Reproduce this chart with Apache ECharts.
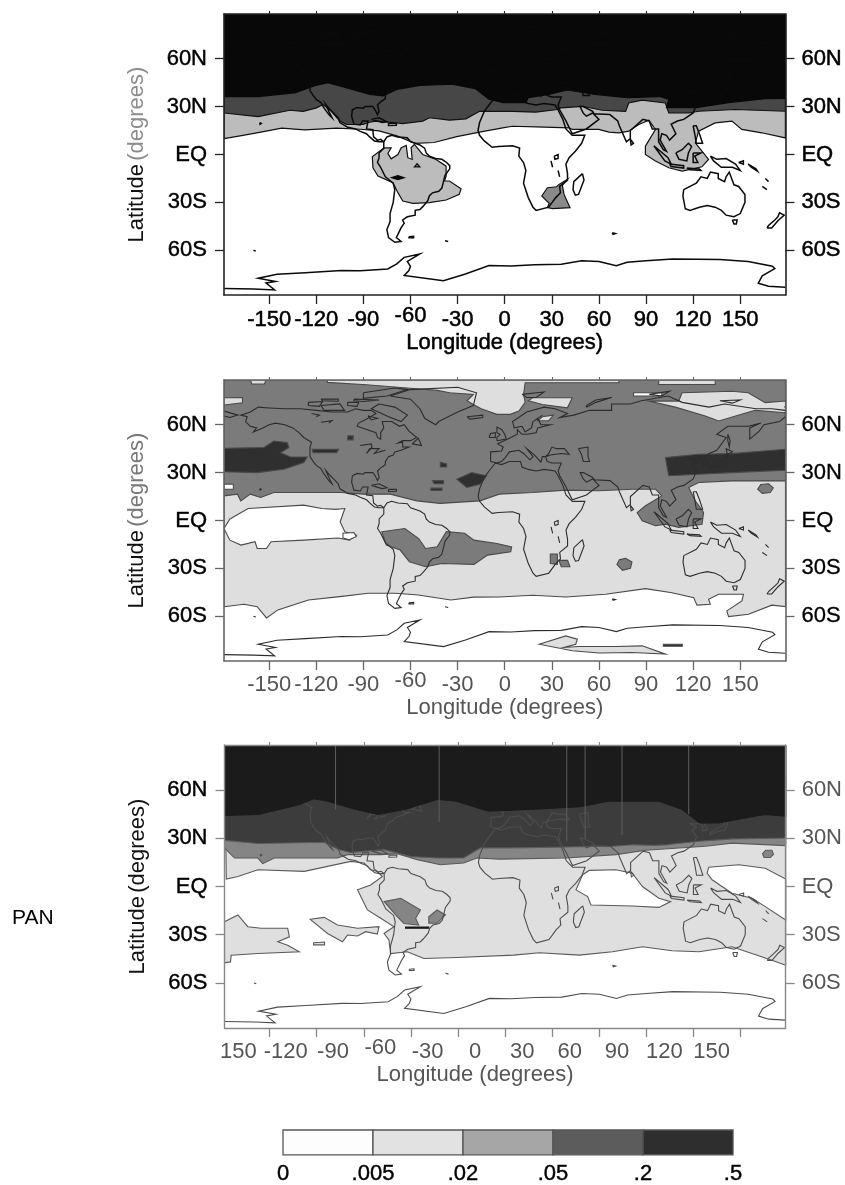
<!DOCTYPE html>
<html><head><meta charset="utf-8">
<style>html,body{margin:0;padding:0;background:#fff}#c{width:845px;height:1185px}</style>
<script src="https://cdn.jsdelivr.net/npm/echarts@6/dist/echarts.min.js"></script>
</head><body><div id="c"></div>
<script>
const LON = 178.75, LAT = 88;
const lonTicks = [-150,-120,-90,-60,-30,0,30,60,90,120,150];
const latTicks = [-60,-30,0,30,60];
const latNames = {'-60':'60S','-30':'30S','0':'EQ','30':'30N','60':'60N'};
const legendLabels = ['0','.005','.02','.05','.2','.5'];
const legendBands = [0,1,2,3,4];
const sideLabel = 'PAN';

// ---------- coastlines (lon, lat) ----------
const coastSouthAmerica = [[-77,8],[-75,11],[-72,12],[-68,11],[-62,10.5],[-60,8],[-54,6],[-51,4],[-50,1],[-48,-1],[-44,-2.5],[-40,-3],[-37,-5],[-35,-7],[-35,-9],[-38,-13],[-39,-17],[-40,-21],[-42,-23],[-46,-24],[-48,-26],[-49,-29],[-52,-32.5],[-54,-34.5],[-57,-35],[-57,-38],[-62,-39],[-65,-41],[-64,-43],[-66,-46],[-68,-50],[-69,-52],[-66,-54.5],[-70,-55],[-74,-52],[-75,-47],[-73,-42],[-73,-37],[-71,-30],[-70,-22],[-71,-18],[-76,-14],[-79,-8],[-81,-5],[-80,-2],[-80,1],[-77,4],[-77,8]];
const coastNorthAmerica = [[-77,8],[-80,8],[-83,8.5],[-86,11],[-88,13],[-92,14.5],[-95,16],[-100,17],[-105,20],[-106,23],[-109,26],[-112,29],[-114,31.5],[-112,27],[-110,23],[-112,25],[-115,29],[-117,32.5],[-120,34.5],[-122,37],[-124,40],[-124,46],[-123,49],[-128,52],[-131,55],[-135,58],[-140,60],[-146,61],[-150,60],[-154,58],[-160,55.5],[-158,58],[-162,59],[-165,62],[-164,65],[-168,66],[-162,68],[-157,71],[-150,70.5],[-140,70],[-130,70],[-120,69],[-110,68],[-100,68],[-95,70],[-90,69],[-85,69],[-82,67],[-87,64],[-93,61],[-94,59],[-88,57],[-82,55],[-81,52],[-79,51],[-79,55],[-77,58],[-78,62],[-72,62],[-67,59],[-64,60],[-61,56],[-56,52],[-60,50],[-65,50],[-68,48.5],[-65,49],[-65,46],[-61,46],[-66,44],[-70,43],[-71,41],[-74,40],[-76,37],[-76,35],[-79,33],[-81,31],[-80,27],[-81,25],[-82.5,28],[-84,30],[-89,30],[-90,29],[-94,29.5],[-97,28],[-97.5,24],[-96,19],[-92,18.5],[-90.5,21],[-87,21],[-88,16],[-84,15.5],[-83.5,11],[-81,9],[-79,9.5],[-77,8]];
const coastAfrica = [[-6,36],[-2,35],[3,37],[10,37],[11,33.5],[15,32],[20,31],[25,32],[32,31],[34,28],[37,22],[39,16],[43,12],[51,12],[49,7],[45,2],[41,-2],[39,-6],[40,-12],[40,-16],[35,-20],[35.5,-24],[32.5,-27],[28,-33],[20,-35],[18,-33],[15,-27],[12,-18],[13.5,-10],[12,-5],[9,-1],[9.5,4],[5,5.5],[-4,5],[-8,4.5],[-13,8.5],[-16,12],[-17,15],[-16,20],[-13,27],[-10,31],[-6,36]];
const coastEurasia = [[-9,37],[-9,43],[-2,43.5],[-1,46],[-4.5,48],[2,51],[8,54],[8,57],[11,54],[14,54],[20,55],[21,58],[29,60],[23,60],[21,64],[24,66],[18,62],[17,58],[13,55.5],[11,59],[6,58],[5,62],[14,68],[25,71],[32,70],[40,67],[35,64.5],[44,66],[54,69],[68,69],[68,73],[80,73],[87,75],[104,78],[113,74],[130,71],[140,73],[160,70],[170,70],[178.7,69],[178.7,65],[175,62],[165,60],[162,56],[156,51],[156,58],[163,61],[155,59],[142,59],[135,54],[141,52],[135,44],[130,42],[127,39],[129,35.5],[126,34.5],[126,37],[125,39],[121,39],[118,39],[122,37],[119,35],[122,31],[120,26],[114,22],[110,21],[106,19],[109,13],[105,9],[103,12],[100,13],[99,9],[103,2],[101,3],[98,8],[98,16],[94,16],[92,21],[88,22],[80,15],[80,10],[77.5,8],[73,18],[72,21],[67,25],[57,25.5],[56,27],[50,30],[48,30],[50,26],[52,24],[56,26],[60,22],[52,16],[43,13],[39,21],[35,28],[34,31],[36,36],[30,36],[27,37],[26,40],[29,41],[36,42],[41,41.5],[38,45],[33,45],[30,46],[28,42],[26,40],[24,40],[23,36.5],[19,41],[14,45],[18,40],[16,38],[12,42],[9,44],[3,43],[0,39],[-2,37],[-5,36],[-9,37]];
const coastChukotka = [[-178.7,68.5],[-170,66],[-175,64.5],[-178.7,65.5]];
const coastCaspian = [[47,45],[53,46],[53,40],[54,37],[50,37],[49,41],[47,45]];
const coastAustralia = [[114,-22],[113.5,-26],[115,-34],[118,-35],[124,-33],[129,-32],[134,-33],[138,-35],[141,-38],[146,-39],[150,-37],[153,-30],[153,-25],[149,-20],[146,-19],[143,-11],[141,-14],[140,-17],[136,-15],[136,-12],[131,-11],[129,-15],[125,-14],[122,-18],[114,-22]];
const coastTasmania = [[145,-41],[148,-41],[147.5,-43.5],[146,-43.5],[145,-41]];
const coastNewZealand = [[167,-46],[170,-46],[174,-41.5],[178,-38],[175,-36.5],[174,-39],[172,-41],[168,-44.5],[167,-46]];
const coastMadagascar = [[49.5,-12],[50.5,-16],[47,-25],[45,-25.5],[43.5,-22],[44,-17],[49.5,-12]];
const coastNewGuinea = [[131,-1],[135,-3],[141,-2.5],[147,-6],[150,-10],[145,-8],[138,-8],[133,-4],[131,-1]];
const coastSumatra = [[95,5.5],[104,-2],[106,-6],[102,-4],[95,5.5]];
const coastJava = [[105,-6],[114,-7],[114,-8.5],[106,-7.5],[105,-6]];
const coastBorneo = [[109,1],[113,3],[117,7],[119,5],[117,1],[116,-4],[111,-3],[109,1]];
const coastSulawesi = [[120,1],[125,1],[121,-1],[123,-5],[120,-5],[120,1]];
const coastPhilippines = [[120,18],[122,18],[124,13],[126,7],[122,7],[121,13],[120,18]];
const coastTimor = [[116,-8.5],[124,-9],[125,-10],[118,-9.5],[116,-8.5]];
const coastBismarck = [[149,-5],[152,-4],[152,-6],[149,-5]];
const coastSolomons = [[155,-6],[160,-9],[161,-10.5],[157,-8],[155,-6]];
const coastVanuatu = [[166,-15],[168,-17]];
const coastCaledonia = [[164,-20],[167,-22]];
const coastJapan = [[130,32],[135,34],[140,35],[142,40],[141,45],[145,43],[141,41],[139,38],[135,36],[130,33]];
const coastSriLanka = [[80,9.5],[82,7],[80.5,6],[80,9.5]];
const coastCuba = [[-85,22],[-80,23],[-75,20.5],[-78,20],[-85,22]];
const coastHispaniola = [[-74,19.5],[-69,19.5],[-69,18.3],[-74,18.2],[-74,19.5]];
const coastBritain = [[-5,50],[1,51],[0,54],[-2,57],[-5,58.5],[-5,55],[-3,54],[-5,52],[-5,50]];
const coastIreland = [[-10,52],[-6,52],[-6,55],[-9,54.5],[-10,52]];
const coastIceland = [[-24,65],[-14,66],[-14,64.5],[-22,63.5],[-24,65]];
const coastGreenland = [[-73,78],[-60,82],[-30,83.5],[-18,80],[-20,72],[-30,68],[-42,62],[-44,60],[-51,64],[-54,70],[-60,76],[-73,78]];
const coastBaffin = [[-80,73],[-70,71],[-62,66],[-66,62],[-74,65],[-85,70],[-80,73]];
const coastEllesmere = [[-90,80],[-70,83],[-62,82],[-75,78],[-90,76.5],[-90,80]];
const coastVictoria = [[-117,72],[-105,73],[-102,69],[-115,69],[-117,72]];
const coastBanks = [[-125,74],[-116,74.5],[-118,71.5],[-125,72],[-125,74]];
const coastMelville = [[-117,76],[-106,76],[-106,74.7],[-116,75],[-117,76]];
const coastDevon = [[-96,76],[-80,75.5],[-90,74.5],[-96,75],[-96,76]];
const coastSomerset = [[-100,74],[-93,74],[-94,71.5],[-100,72],[-100,74]];
const coastSouthampton = [[-87,65.5],[-81,64],[-85,63],[-87,65.5]];
const coastNewfoundland = [[-59,48],[-55,51.5],[-53,47],[-59,48]];
const coastGreatLakes = [[-92,47],[-85,48],[-84.5,46],[-88,42],[-86,45],[-80,45],[-83,42],[-76,44],[-80,43]];
const coastBear = [[-123,67],[-118,66],[-120,65]];
const coastSlave = [[-117,61.5],[-110,62.5],[-112,61]];
const coastSvalbard = [[11,79],[25,80.5],[20,77],[14,77],[11,79]];
const coastNovaya = [[52,71],[58,74],[68,77],[58,75.5],[52,72],[52,71]];
const coastSevernaya = [[92,79],[105,81],[100,78],[92,79]];
const coastSiberian = [[137,75],[150,75.5],[145,73.5],[137,75]];
const coastWrangel = [[178,71.3],[178.7,70.8]];
const coastKamchatkaSakhalin = [[142,54],[143.5,50],[143,46],[142,50],[142,54]];
const coastVictoriaLake = [[31.5,-1],[34,0],[34,-2.5],[32,-3],[31.5,-1]];
const coastTanganyika = [[29.5,-4],[30.5,-8]];
const coastMalawi = [[34,-10],[35,-14]];
const coastAntarctica = [[-178.7,-84],[-160,-84.3],[-146.5,-84.8],[-152,-80.5],[-146,-79.5],[-157,-77.5],[-145,-75],[-127,-74],[-104,-72.7],[-92,-72.8],[-74.5,-71.7],[-68.7,-68.5],[-64,-64.4],[-54,-62.3],[-62,-67],[-60,-70],[-61,-72.7],[-64,-75.8],[-39,-79],[-25,-74.8],[-10,-69.6],[4,-69.8],[19,-69],[36,-68.8],[49,-66.5],[60,-67],[71,-69.6],[78,-67.5],[90,-66.5],[107,-65.4],[137,-65.8],[155,-67],[170.5,-70],[172,-71.5],[164,-76],[161.5,-80.6],[168,-82.5],[178.7,-83.1]];
const coastFalkland = [[-61,-51.5],[-58,-51.2],[-58,-52.2],[-61,-52.2],[-61,-51.5]];
const coastSouthGeorgia = [[-38,-54],[-36,-54.5]];
const coastKerguelen = [[68.5,-49],[70.5,-49.5],[69,-50],[68.5,-49]];
const coastHawaii = [[-156,20],[-155,19.5],[-155.8,19],[-156,20]];
const coastAntipodes = [[-160,-60],[-158.5,-60.5]];
const coastLines = [coastSouthAmerica,coastNorthAmerica,coastAfrica,coastEurasia,coastChukotka,coastCaspian,coastAustralia,coastTasmania,coastNewZealand,coastMadagascar,coastNewGuinea,coastSumatra,coastJava,coastBorneo,coastSulawesi,coastPhilippines,coastTimor,coastBismarck,coastSolomons,coastVanuatu,coastCaledonia,coastJapan,coastSriLanka,coastCuba,coastHispaniola,coastBritain,coastIreland,coastIceland,coastGreenland,coastBaffin,coastEllesmere,coastVictoria,coastBanks,coastMelville,coastDevon,coastSomerset,coastSouthampton,coastNewfoundland,coastGreatLakes,coastBear,coastSlave,coastSvalbard,coastNovaya,coastSevernaya,coastSiberian,coastWrangel,coastKamchatkaSakhalin,coastVictoriaLake,coastTanganyika,coastMalawi,coastAntarctica,coastFalkland,coastSouthGeorgia,coastKerguelen,coastHawaii,coastAntipodes];

// ---------- panel 1 contours ----------
const top1 = [[LON,LAT],[-LON,LAT]];
const p1LightEdge = [[-LON,10],[-168.5,11.7],[-157,13.7],[-142,16.5],[-127.4,15.4],[-107,16.5],[-92,15.8],[-80,14.8],[-68.7,11.7],[-57,7],[-45,7.5],[-30.5,11.2],[-16,14],[-1.3,16.7],[5,17.7],[19.8,17.3],[41,16.7],[43,15.7],[51.6,15.7],[60,15.7],[66.4,14],[72.7,13.6],[79,14.6],[85.4,18.8],[91.8,21.5],[96,15.7],[92.8,10.4],[89.6,5.2],[89.6,0],[96,-4.1],[104.5,-8.3],[113,-10.4],[125.6,-7.7],[129.8,-3.1],[125.6,2.1],[121.4,7.3],[123.5,14.6],[134,19.8],[144.7,20.9],[151,15.7],[163.7,13.6],[LON,10.4]];
const p1DarkEdge = [[-LON,26],[-157,23.7],[-136.8,27.7],[-128.3,27],[-119.9,29.2],[-115.6,31.3],[-110.4,27],[-105,20.9],[-100.8,18.8],[-90.2,18.8],[-86,20.2],[-81.8,20.9],[-73.3,20.2],[-64.9,19.4],[-52.2,20.9],[-47.9,23],[-35.2,21.5],[-24.7,22.3],[-16,27.1],[-9.8,27],[5,27],[19.8,26.5],[33.6,28.2],[35.7,29.2],[49.4,30.2],[62.1,27.7],[77,27],[79,32.3],[87.5,34],[102.3,32.3],[104.5,26],[117.2,26],[123.5,27.1],[146.8,28.2],[LON,27.1]];
const p1BlackEdge = [[-LON,36.3],[-157,36.3],[-133,38.8],[-121.5,43],[-112.7,45],[-101,41.9],[-86,37.7],[-77.5,36.7],[-68.7,40.8],[-54,43.3],[-33.5,44],[-18.8,41.3],[-10,34.6],[-1,32.5],[13.5,32.5],[15,35.6],[28,37.7],[40,40.4],[57.5,37.7],[78,35.6],[98.6,36.3],[104.5,34.6],[103,29.4],[122,29.4],[142.6,32.5],[166,35],[LON,35.2]];
const p1Amazon = [[-84.3,-1.4],[-79.7,2.1],[-76.5,4.2],[-72.3,4.2],[-74.4,0.7],[-72.3,-2.7],[-68,0],[-65.9,4.2],[-62.7,5.7],[-61.7,-2],[-58.9,-3.1],[-59.6,4.2],[-57.5,6.3],[-52.2,0],[-43.7,-3.1],[-37.3,-7.3],[-37.3,-13.5],[-38.4,-16.6],[-35.2,-16.6],[-27.8,-21.4],[-28.9,-25],[-37.3,-28.5],[-47.9,-30.2],[-58.5,-30.6],[-64.9,-29.1],[-68,-23.9],[-71.2,-17.7],[-80.7,-13.5],[-83.9,-8.3]];
const p1AmazonSpot = [[-72,-14.5],[-68,-13.2],[-64,-14.5],[-68,-15.8]];
const p1AmazonRing = [[-57.5,-7.8],[-55.8,-5.8],[-54,-7.8]];
const p1SouthAfrica = [[23.6,-26],[27.2,-20.8],[33,-20.2],[34.6,-18.7],[39.9,-15.6],[36.7,-19.3],[37.8,-25],[41.6,-33.3],[30.4,-33.9],[27.2,-33.3],[28.3,-30.6]];

// ---------- panel 2 contours ----------
const p2LightEdge = [[-LON,-54],[-166,-52.5],[-157.6,-54],[-151.7,-61],[-144.4,-56],[-125,-49.8],[-105,-47.7],[-87,-45.6],[-69.6,-45.6],[-55,-46.7],[-34.3,-49.8],[-19.7,-48],[-3.5,-47.9],[17.7,-46.8],[38.8,-47.9],[64.2,-46.2],[89.6,-42.7],[106.5,-45.2],[120.3,-48.3],[122.4,-53],[130.9,-52.5],[129.8,-49.4],[136.2,-46.2],[152,-46.2],[151,-50.4],[141.4,-56.6],[142.5,-60.2],[155.2,-58.7],[170,-53],[LON,-53.9]];
const p2PacificHole = [[-175,1],[-163.4,7.5],[-128,9.6],[-116.5,7.5],[-107.7,7],[-101.8,7.5],[-104.8,-0.8],[-101.8,-7],[-94.5,-9.2],[-98.9,-12.3],[-106.3,-11],[-128,-12.3],[-148.8,-13.3],[-151.7,-17.5],[-157.6,-17.5],[-159,-13.3],[-167.9,-15.4],[-175,-12.3],[-LON,-5]];
const p2MidEdge = [[-LON,15.4],[-170.2,16.5],[-168.1,12.3],[-162,16.5],[-155.4,14.4],[-147,17.5],[-104.6,17.5],[-89.8,16.5],[-72.9,16.5],[-56,12.3],[-41.2,10.7],[-15.8,12.3],[-3.5,16.5],[17.7,17.5],[38.8,19],[60,18.6],[81.1,19.6],[96,19.6],[100,15.4],[89.6,9.2],[84.3,5],[87.5,-0.2],[96,-3.3],[102.3,-2.3],[110.8,-4.3],[125.6,-2.3],[126.6,5],[121.3,12.3],[117.1,20.7],[123.5,23.8],[144.6,24.8],[LON,24.8]];
const p2DarkEast = [[102.3,39.4],[123.5,41.5],[144.6,41.9],[LON,44.6],[LON,31.5],[144.6,30],[123.5,29],[104.4,28]];
const p2DarkWest = [[-LON,45.2],[-153.3,45.7],[-147,49.8],[-138.5,48.8],[-137.4,45.7],[-142.7,42.5],[-136.4,39.8],[-125.8,39.8],[-127.9,36.3],[-140.6,32.1],[-157.5,30],[-LON,30.5]];
const p2DarkDash = [[-122.6,44.6],[-105.7,44.6],[-107,42.5],[-122,42.5]];
const p2DarkAtlantic = [[-30.6,25.9],[-21,30],[-11.5,28],[-15.8,22.7],[-24.2,20.7]];
const p2DarkSpotA = [[-41,36.5],[-37,35.5],[-37,33.5],[-41,33.5]];
const p2DarkSpotB = [[-46,25],[-39,25],[-39,23],[-45,23]];
const p2DarkSpotC = [[-47,20.3],[-40,20.3],[-40,18.8],[-47,18.8]];
const p2DarkSpotD = [[-100,53],[-96.5,53],[-96.5,50.5],[-100,50.5]];
const p2SouthAmericaPatch = [[-78.3,-7],[-63.6,-5],[-54.8,-11.3],[-50.4,-17.5],[-43,-16.5],[-37.2,-7],[-25.5,-8],[-19.6,-12.3],[-5,-14.4],[4.4,-16.5],[3.8,-19.6],[-10.9,-21.7],[-19.6,-27.5],[-40,-26.9],[-50.4,-29],[-60.7,-25.8],[-66.6,-18.5],[-75.4,-15.4]];
const p2MidSpotPacific = [[161,19.6],[163,22.5],[168,23],[171,20.5],[169,17.5],[164,17]];
const p2MidSpotIndian = [[71.4,-27.5],[73,-24.5],[77,-23.7],[81,-26],[80,-30],[75,-31.2]];
const p2MidSpotAfrica = [[29,-21],[33.5,-21],[33.5,-27.5],[29,-27]];
const p2MidSpotMoz = [[34.5,-25],[40,-25],[41.5,-29],[36,-29]];
const p2ArcticA = [[-113,LAT],[-113,86.5],[-88,85],[-62,83],[-43,81.5],[-35,80],[-20,79],[-24,75],[-20,72.7],[-15,70],[-5,66.5],[3.5,66.5],[9,68.6],[13,74],[12,79],[13,86.3],[72.7,86.3],[72.7,LAT]];
const p2ArcticB = [[17.7,76.9],[43,76.9],[39.9,70.6],[24,72.7],[15,75]];
const p2ArcticC = [[91.7,74.8],[110.8,74.8],[112.9,80],[144.6,81],[155,80],[165.8,73.8],[LON,74.8],[LON,67.5],[159.4,69],[136.2,62.3],[127.7,65.4],[108.6,71]];
const p2ArcticD = [[-LON,76.9],[-167,77],[-167,73.8],[-LON,72.3]];
const p2ArcticE = [[82,80],[100,80],[100,78],[82,78]];
const p2ArcticF = [[98,LAT],[134,LAT],[134,85.2],[98,85.2]];
const p2ArcticG = [[24,65],[31,66],[28,62.5],[21,62.5]];
const p2ArcticH = [[-162,LAT],[-152,LAT],[-153,85.5],[-161,85.5]];
const p2WhiteSpot = [[-LON,22.7],[-172.8,22.7],[-172.8,19.6],[-LON,19.6]];
const p2WhiteSpotB = [[-103,-8],[-96,-7.5],[-94.5,-10],[-99,-12],[-103,-11]];
const p2AntarcticIslet = [[21.9,-77.5],[38.8,-72.3],[46.2,-74.3],[45.2,-77.5],[37.8,-79.5],[47.3,-78.9],[70.6,-78.9],[87.5,-78.5],[102.3,-83.7],[81.1,-82.7],[60,-83],[43,-81.6]];
const p2AntarcticDash = [[101,-77.5],[113,-77.5],[113,-78.8],[101,-78.8]];

// ---------- panel 3 contours ----------
const p3LightOutline = [[-LON,LAT],[LON,LAT],[LON,-49],[170,-45.8],[157.3,-41.7],[144.6,-37.5],[123.5,-40.6],[106.5,-40],[87.5,-37.5],[68.4,-40.6],[47.3,-42.7],[21.9,-41.2],[5.4,-42.7],[-30.6,-44.2],[-51.7,-44.8],[-62.3,-40.6],[-72.9,-41.7],[-74,-33.3],[-77.1,-29.2],[-70.8,-25],[-79.2,-19.8],[-87.7,-14.6],[-94,-2],[-85.6,1],[-78.2,6.2],[-81.4,9.4],[-85.6,10.4],[-89.8,14.6],[-98.3,15.6],[-127.9,9.4],[-157.5,10.4],[-170.2,6.2],[-177.6,4.6]];
const p3Pacific = [[-LON,-21.9],[-170.2,-17.7],[-163.9,-25],[-155.4,-26],[-138.5,-26],[-137.4,-31.3],[-144.8,-34.4],[-138.5,-36.5],[-131.1,-40.6],[-157.5,-41.7],[-174.5,-42.7],[-174.9,-46.9],[-LON,-47.5]];
const p3Islands = [[-124.1,-20.4],[-115.2,-19.2],[-106.8,-24],[-94,-26],[-80.3,-25],[-81.4,-29.6],[-88.8,-28.1],[-94,-30.8],[-100.4,-30.2],[-103.6,-34.4],[-113.1,-29.2]];
const p3IsleSpot = [[-122,-35],[-115,-34.5],[-115,-36.3],[-122,-36.3]];
const p3WhiteIndian = [[49.4,7.3],[53.6,10],[70.6,10.4],[81.1,8.3],[87.5,0],[98,-7.3],[105.5,-9.4],[98,-13],[81.1,-12.1],[54.7,-11.5],[52.6,-6.3],[45.2,-2.1]];
const p3WhitePacific = [[129.8,12],[148.9,13.5],[165.8,11.4],[LON,4.6],[LON,-20.8],[165.8,-12.5],[157.3,-7.3],[144.6,-4.2],[131.9,4.2],[128.7,8.3]];
const p3MidEdge = [[-LON,24],[-176.6,21.9],[-172.4,17.7],[-157.5,17.7],[-154.4,14.2],[-147,17.7],[-106.8,17.7],[-100.4,19.8],[-79.2,19.8],[-68.7,20.4],[-56,16.7],[-41.2,13.5],[-26.4,14.6],[-17.9,17.7],[-3.5,17],[38.8,17.7],[70.6,19.8],[89.6,22.5],[110.8,23.9],[127.7,25],[144.6,27],[LON,25.4]];
const p3MidSpikes = [[84.3,30.8],[87.5,32.3],[90,29.5],[93,31.5],[96,32.3],[99,30],[103.4,31.2],[104.4,26],[85.4,26]];
const p3DarkEdge = [[-LON,28.7],[-157.5,26.7],[-115.2,27.5],[-106,23],[-98.3,21.2],[-77.1,22.9],[-60.2,18.7],[-43.3,17.7],[-26.4,17.7],[-15.8,24],[5.4,24],[38.8,24.6],[68.4,25],[81.1,26],[96,25.6],[102.3,26],[123.5,28.1],[144.6,29.6],[LON,30.2]];
const p3BlackEdge = [[-LON,44.2],[-157,44.8],[-130.8,51],[-122,54.6],[-113,53],[-95.6,48],[-81,44.8],[-63.3,48],[-42.8,54.2],[-31,53],[-10.6,46.9],[18.8,48],[48,49.6],[65.7,53],[98,53],[112.6,48],[124,39.6],[136,39.6],[165.4,44.8],[LON,43.8]];
const p3AndesPatch = [[-77.1,-9.4],[-66.5,-7.3],[-53.9,-14.6],[-57,-19.8],[-55,-24],[-64.4,-23],[-68.7,-18.8]];
const p3BrazilPatch = [[-48.6,-18.8],[-43.3,-14.6],[-38,-17.7],[-43.3,-22.9],[-48.6,-22.9]];
const p3PlataDash = [[-63.4,-25.2],[-48.6,-25.2],[-48.6,-26],[-63.4,-26]];
const p3MidSpotPacific = [[164,20.5],[166,22.5],[170,22.5],[171,20],[169,18],[165,18]];
const p3Streaks = [[[39.3,LAT],[39.3,28]],[[51,LAT],[51,30]],[[74.5,LAT],[74.5,32]],[[-42,LAT],[-42,40]],[[-108,LAT],[-108,48]],[[117,LAT],[117,45]]];

// band index: 0 white, 1 light, 2 mid, 3 dark, 4 darkest
const panel1Regions = [
  [1,p1LightEdge.concat(top1)],[3,p1DarkEdge.concat(top1)],[4,p1BlackEdge.concat(top1)],
  [1,p1Amazon],[4,p1AmazonSpot],[2,p1AmazonRing],[2,p1SouthAfrica]];
const panel2Regions = [
  [1,p2LightEdge.concat(top1)],[0,p2PacificHole],[2,p2MidEdge.concat(top1)],
  [3,p2DarkEast],[3,p2DarkWest],[3,p2DarkDash],[3,p2DarkAtlantic],[3,p2DarkSpotA],[3,p2DarkSpotB],[3,p2DarkSpotC],[3,p2DarkSpotD],
  [2,p2SouthAmericaPatch],[2,p2MidSpotPacific],[2,p2MidSpotIndian],[2,p2MidSpotAfrica],[2,p2MidSpotMoz],
  [1,p2ArcticA],[1,p2ArcticB],[1,p2ArcticC],[1,p2ArcticD],[0,p2ArcticE],[1,p2ArcticF],[1,p2ArcticG],[1,p2ArcticH],
  [0,p2WhiteSpot],[0,p2WhiteSpotB],[1,p2AntarcticIslet],[3,p2AntarcticDash]];
const panel3Regions = [
  [1,p3LightOutline],[1,p3Pacific],[1,p3Islands],[1,p3IsleSpot],[0,p3WhiteIndian],[0,p3WhitePacific],
  [2,p3MidEdge.concat(top1)],[2,p3MidSpikes],[3,p3DarkEdge.concat(top1)],
  [2,p3AndesPatch],[2,p3BrazilPatch],[4,p3PlataDash],[2,p3MidSpotPacific]];
const panel3Over = [[4,p3BlackEdge.concat(top1)]];

// ---------- styling ----------
const FONT = '"Liberation Sans", Arial, sans-serif';
const FS = 22;
const panels = [
 {regions:panel1Regions, over:[], streaks:[], top:14,  left:224,   width:563, height:281, fills:['#ffffff','#bcbcbc','#8a8a8a','#474747','#080808'], edge:'#111', edgeW:1.2, coast:'#0a0a0a', coastW:1.5, frame:'#222', frameW:1.6, xText:'#000', xBold:0.5, yLeft:'#000', yRight:'#000', rBold:0.5, latMain:'#111', latSub:'#8c8c8c', shift:0, xMargin:10},
 {regions:panel2Regions, over:[], streaks:[], top:380, left:224,   width:564, height:281, fills:['#ffffff','#dedede','#7b7b7b','#2f2f2f','#111'], edge:'#4a4a4a', edgeW:1.1, coast:'#2c2c2c', coastW:1.1, frame:'#666', frameW:1.6, xText:'#555', xBold:0, yLeft:'#000', yRight:'#000', rBold:0.3, latMain:'#111', latSub:'#777', shift:0, xMargin:9},
 {regions:panel3Regions, over:panel3Over, streaks:p3Streaks, top:745, left:224.5, width:564, height:283, fills:['#ffffff','#dfdfdf','#858585','#3c3c3c','#1b1b1b'], edge:'#5a5a5a', edgeW:1.1, coast:'#4d4d4d', coastW:1.1, frame:'#888', frameW:1.4, xText:'#555', xBold:0, yLeft:'#000', yRight:'#555', rBold:0, latMain:'#111', latSub:'#111', shift:-31.5, xMargin:9}
];
const legendFills = ['#fdfdfd','#e2e2e2','#a6a6a6','#5c5c5c','#2e2e2e'];

const grids=[], xAxes=[], yAxes=[], series=[];
const xFmt = (shiftPanel)=> v => {
  let s = String(v);
  if (shiftPanel && v === -150) s = '150';
  return v === -60 ? '{hi|'+s+'}' : '{lo|'+s+'}';
};
const regionSeries = (list, p, xb, yl) => ({type:'custom', xAxisIndex:xb, yAxisIndex:yl, silent:true, animation:false, clip:true,
    data:list.map((r,i)=>[r[1][0][0], r[1][0][1], i]),
    encode:{x:0,y:1},
    renderItem:(params,api)=>{
      const r = list[api.value(2)];
      return {type:'polygon', shape:{points:r[1].map(q=>api.coord(q))},
        style:{fill:p.fills[r[0]], stroke:r[0]>=4?p.fills[r[0]]:p.edge, lineWidth:p.edgeW}};
    }});
const lineSeries = (list, color, width, xb, yl) => ({type:'custom', xAxisIndex:xb, yAxisIndex:yl, silent:true, animation:false, clip:true,
    data:list.map((c,i)=>[c[0][0], c[0][1], i]),
    encode:{x:0,y:1},
    renderItem:(params,api)=>{
      const c = list[api.value(2)];
      return {type:'polyline', shape:{points:c.map(q=>api.coord(q))},
        style:{fill:null, stroke:color, lineWidth:width}};
    }});
panels.forEach((p)=>{
  const g = grids.length;
  grids.push({left:p.left, top:p.top, width:p.width, height:p.height});
  const lineStyle = {color:p.frame, width:p.frameW};
  const tickStyle = {show:true, inside:false, length:9, lineStyle:{color:p.frame, width:1.3}, customValues:lonTicks};
  const txt = {fontSize:FS,fontFamily:FONT,color:p.xText,textBorderColor:p.xText,textBorderWidth:p.xBold};
  const rich = {hi:{...txt,padding:[0,0,0,0]}, lo:{...txt,padding:[4,0,0,0]}};
  const hasShift = p.shift !== 0;
  const xb = xAxes.length;
  xAxes.push({type:'value', gridIndex:g, position:'bottom', min:-LON, max:LON, z:5,
    splitLine:{show:false}, axisLine:{show:true, onZero:false, lineStyle}, axisTick:tickStyle,
    axisLabel: hasShift ? {show:false} : {show:true, customValues:lonTicks, margin:p.xMargin, formatter:xFmt(false), rich, hideOverlap:false},
    name: hasShift ? '' : 'Longitude (degrees)', nameLocation:'middle', nameGap:33,
    nameTextStyle:{...txt}});
  xAxes.push({type:'value', gridIndex:g, position:'top', min:-LON, max:LON, z:5,
    splitLine:{show:false}, axisLine:{show:true, onZero:false, lineStyle},
    axisTick:{show:true, length:3, lineStyle:{color:p.frame, width:1.1}, customValues:lonTicks},
    axisLabel:{show:false}});
  const yl = yAxes.length;
  const yt = {show:true, length:9, lineStyle:{color:p.frame, width:1.3}, customValues:latTicks};
  const lat = '{m|Latitude} {s|(degrees)}';
  yAxes.push({type:'value', gridIndex:g, position:'left', min:-LAT, max:LAT, z:5,
    splitLine:{show:false}, axisLine:{show:true, onZero:false, lineStyle}, axisTick:yt,
    axisLabel:{show:true, customValues:latTicks, margin:17, fontSize:FS, fontFamily:FONT, color:p.yLeft, textBorderColor:p.yLeft, textBorderWidth:0.4, formatter:v=>latNames[v]},
    name:lat, nameLocation:'middle', nameGap:76, nameRotate:90,
    nameTextStyle:{rich:{m:{fontSize:FS,fontFamily:FONT,color:p.latMain}, s:{fontSize:FS,fontFamily:FONT,color:p.latSub}}}});
  yAxes.push({type:'value', gridIndex:g, position:'right', min:-LAT, max:LAT, z:5,
    splitLine:{show:false}, axisLine:{show:true, onZero:false, lineStyle}, axisTick:yt,
    axisLabel:{show:true, customValues:latTicks, margin:16, fontSize:FS, fontFamily:FONT, color:p.yRight, textBorderColor:p.yRight, textBorderWidth:p.rBold, formatter:v=>latNames[v]}});

  series.push(regionSeries(p.regions, p, xb, yl));
  series.push(lineSeries(coastLines, p.coast, p.coastW, xb, yl));
  if (p.over.length) series.push(regionSeries(p.over, p, xb, yl));
  if (p.streaks.length) series.push(lineSeries(p.streaks, '#5e5e5e', 1, xb, yl));

  if (hasShift) {
    const g2 = grids.length;
    grids.push({left:p.left+p.shift, top:p.top, width:p.width, height:p.height});
    xAxes.push({type:'value', gridIndex:g2, position:'bottom', min:-LON, max:LON,
      splitLine:{show:false}, axisLine:{show:false}, axisTick:{show:false},
      axisLabel:{show:true, customValues:lonTicks, margin:p.xMargin, formatter:xFmt(true), rich},
      name:'Longitude (degrees)', nameLocation:'middle', nameGap:33,
      nameTextStyle:{...txt}});
    yAxes.push({type:'value', gridIndex:g2, show:false, min:-LAT, max:LAT});
  }
});

// legend strip
const gl = grids.length;
grids.push({left:283, top:1130, width:450, height:29});
const legX = xAxes.length, legY = yAxes.length;
xAxes.push({type:'value', gridIndex:gl, min:0, max:5, interval:1, position:'bottom',
  splitLine:{show:false}, axisLine:{show:false}, axisTick:{show:false},
  axisLabel:{margin:8, fontSize:FS, fontFamily:FONT, color:'#000', textBorderColor:'#000', textBorderWidth:0.4, formatter:v=>legendLabels[v]}});
yAxes.push({type:'value', gridIndex:gl, min:0, max:1, show:false});
series.push({type:'custom', xAxisIndex:legX, yAxisIndex:legY, silent:true, animation:false,
  data:legendBands.map(b=>[b, b+1, 1]), encode:{x:[0,1],y:2},
  renderItem:(params,api)=>{
    const a = api.coord([api.value(0),1]), b = api.coord([api.value(1),0]);
    return {type:'rect', shape:{x:a[0],y:a[1],width:b[0]-a[0],height:b[1]-a[1]},
      style:{fill:legendFills[api.value(0)], stroke:'#555', lineWidth:1.3}};
  }});

const chart = echarts.init(document.getElementById('c'), null, {renderer:'canvas'});
chart.setOption({
  animation:false, backgroundColor:'#fff',
  title:{text:sideLabel, left:12, top:908, textStyle:{fontSize:21, fontWeight:'normal', fontFamily:FONT, color:'#000'}, padding:0},
  grid:grids, xAxis:xAxes, yAxis:yAxes, series
});
</script></body></html>
